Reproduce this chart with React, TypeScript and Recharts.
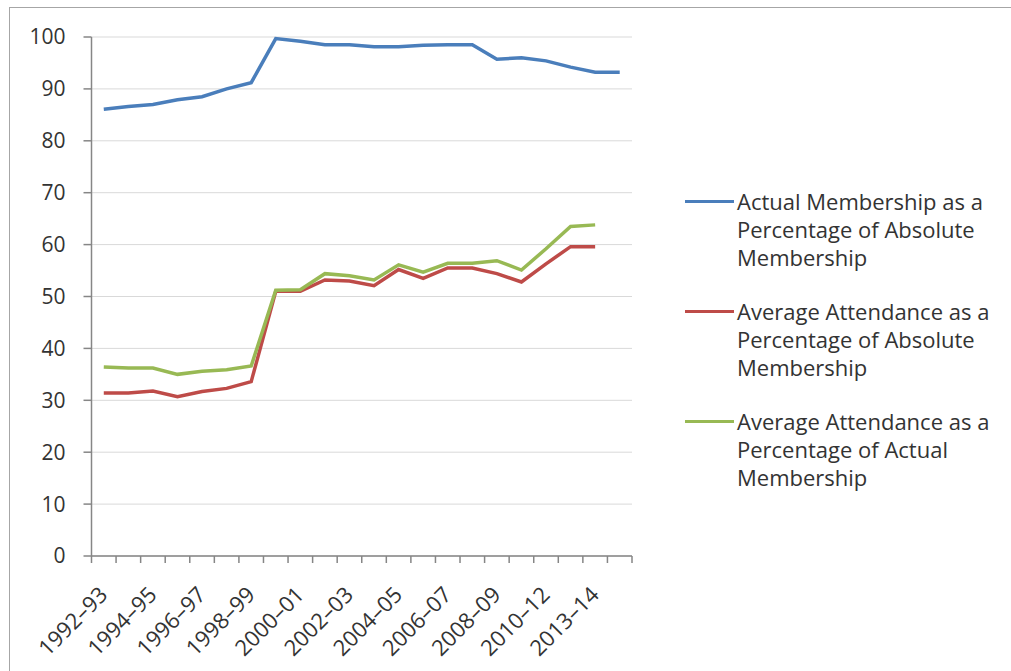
import { LineChart, Line, XAxis, YAxis, CartesianGrid } from 'recharts'

const categories = [
  '1992–93', '1993–94', '1994–95', '1995–96', '1996–97', '1997–98', '1998–99', '1999–2000',
  '2000–01', '2001–02', '2002–03', '2003–04', '2004–05', '2005–06', '2006–07', '2007–08',
  '2008–09', '2009–10', '2010–12', '2012–13', '2013–14', '2014–15',
]

const actualMembership = [
  86.1, 86.6, 87.0, 87.9, 88.5, 90.0, 91.2, 99.7, 99.2, 98.5, 98.5,
  98.1, 98.1, 98.4, 98.5, 98.5, 95.7, 96.0, 95.4, 94.2, 93.2, 93.2,
]

const attendanceOfAbsolute = [
  31.4, 31.4, 31.8, 30.7, 31.7, 32.3, 33.6, 51.0, 51.0, 53.2, 53.0,
  52.1, 55.2, 53.5, 55.5, 55.5, 54.4, 52.8, 56.3, 59.6, 59.6, null,
]

const attendanceOfActual = [
  36.4, 36.2, 36.2, 35.0, 35.6, 35.9, 36.6, 51.2, 51.3, 54.4, 54.0,
  53.2, 56.1, 54.7, 56.4, 56.4, 56.9, 55.1, 59.2, 63.5, 63.8, null,
]

const yTicks = [0, 10, 20, 30, 40, 50, 60, 70, 80, 90, 100]

const series = [
  { key: 'actual', name: 'Actual Membership as a Percentage of Absolute Membership', lines: ['Actual Membership as a', 'Percentage of Absolute', 'Membership'], color: '#4a7ebb' },
  { key: 'absolute', name: 'Average Attendance as a Percentage of Absolute Membership', lines: ['Average Attendance as a', 'Percentage of Absolute', 'Membership'], color: '#be4b48' },
  { key: 'ofActual', name: 'Average Attendance as a Percentage of Actual Membership', lines: ['Average Attendance as a', 'Percentage of Actual', 'Membership'], color: '#98b954' },
]

const data = categories.map((c, i) => ({
  period: c,
  actual: actualMembership[i],
  absolute: attendanceOfAbsolute[i],
  ofActual: attendanceOfActual[i],
}))

const FONT = '"Open Sans", Lato, sans-serif'
const TEXT = '#333'
const AXIS = '#868686'

const PLOT_LEFT = 91.5
const PLOT_RIGHT = 632
const PLOT_TOP = 37
const PLOT_BOTTOM = 556
const WIDTH = 1011
const HEIGHT = 671
const BAND = (PLOT_RIGHT - PLOT_LEFT) / categories.length

// eslint-disable-next-line @typescript-eslint/no-explicit-any
function XTick({ x, y, index, payload }: any) {
  const left = x - BAND / 2
  const ax = x + 1
  const ay = y + 36
  return (
    <g>
      <line x1={left} x2={left} y1={y} y2={y + 7} stroke={AXIS} strokeWidth={1.5} />
      {index === categories.length - 1 && (
        <line x1={x + BAND / 2} x2={x + BAND / 2} y1={y} y2={y + 7} stroke={AXIS} strokeWidth={1.5} />
      )}
      {index % 2 === 0 && (
        <text
          x={ax}
          y={ay}
          transform={`rotate(-45 ${ax} ${ay})`}
          textAnchor="end"
          dominantBaseline="middle"
          fontSize={22}
          fontFamily={FONT}
          fill={TEXT}
        >
          {payload.value}
        </text>
      )}
    </g>
  )
}

export default function App() {
  return (
    <div style={{ position: 'absolute', left: 0, top: 0, width: WIDTH, height: HEIGHT, background: '#fff', fontFamily: FONT }}>
      <div style={{ position: 'absolute', left: 9, top: 7, right: 0, bottom: 0, borderLeft: '1.5px solid #a6a6a6', borderTop: '1.5px solid #a6a6a6' }} />
      <LineChart
        width={WIDTH}
        height={HEIGHT}
        data={data}
        margin={{ top: PLOT_TOP, right: WIDTH - PLOT_RIGHT, left: PLOT_LEFT - 60, bottom: HEIGHT - PLOT_BOTTOM - 100 }}
        style={{ position: 'absolute', left: 0, top: 0 }}
      >
        <CartesianGrid vertical={false} stroke="#d9d9d9" strokeWidth={1} />
        <XAxis
          dataKey="period"
          scale="band"
          interval={0}
          height={100}
          tickLine={false}
          tickSize={0}
          tickMargin={0}
          axisLine={{ stroke: AXIS, strokeWidth: 1.5 }}
          tick={<XTick />}
        />
        <YAxis
          width={60}
          domain={[0, 100]}
          ticks={yTicks}
          interval={0}
          tickSize={8}
          tickMargin={18}
          tickLine={{ stroke: AXIS, strokeWidth: 1.5 }}
          axisLine={{ stroke: AXIS, strokeWidth: 1.5 }}
          tick={{ fill: TEXT, fontSize: 21, fontFamily: FONT }}
        />
        {series.map((s) => (
          <Line
            key={s.key}
            type="linear"
            dataKey={s.key}
            name={s.name}
            stroke={s.color}
            strokeWidth={3.5}
            dot={false}
            activeDot={false}
            isAnimationActive={false}
          />
        ))}
      </LineChart>
      <div style={{ position: 'absolute', left: 685, top: 187 }}>
        {series.map((s) => (
          <div key={s.key} style={{ display: 'flex', alignItems: 'flex-start', marginBottom: 26 }}>
            <div style={{ width: 49, height: 3.5, background: s.color, marginTop: 12.5, marginRight: 3 }} />
            <div style={{ fontSize: 22, lineHeight: '28px', color: TEXT, whiteSpace: 'nowrap' }}>
              {s.lines.map((l) => (
                <div key={l}>{l}</div>
              ))}
            </div>
          </div>
        ))}
      </div>
    </div>
  )
}
